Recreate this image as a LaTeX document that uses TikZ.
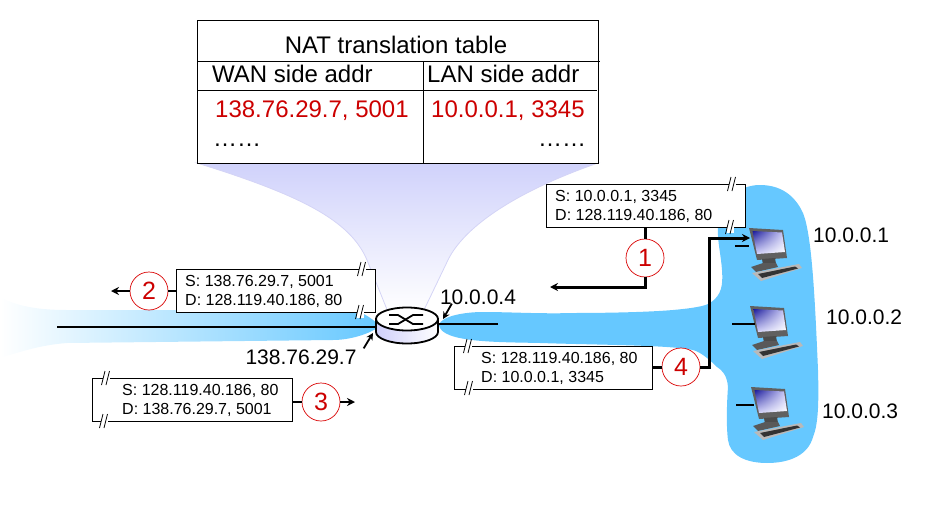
\documentclass[tikz,border=0pt]{standalone}
\usepackage{fontspec}
\setmainfont{Liberation Sans}
\usetikzlibrary{arrows.meta,positioning,calc,shadings}
\definecolor{lanblue}{HTML}{66C8FF}
\definecolor{conetop}{HTML}{D0D2FB}
\definecolor{coneline}{HTML}{D4D4F6}
\definecolor{natred}{HTML}{CC0000}
\definecolor{routerlav}{HTML}{CFCFFA}
\definecolor{screennavy}{HTML}{1A1A9A}

\begin{document}
\begin{tikzpicture}[
    x=1pt, y=-1pt,
    >={Stealth[length=8pt,width=8pt]},
    tablebox/.style={draw, line width=1.2pt, minimum width=401pt, minimum height=143pt, inner sep=0pt, anchor=north west},
    tablehead/.style={anchor=west, inner sep=0pt, font=\fontsize{24}{28}\selectfont},
    tablerow/.style={tablehead, text=natred},
    pktbox/.style={draw, fill=white, line width=1pt, minimum width=199pt, minimum height=43pt, inner sep=0pt, anchor=north west},
    pkttext/.style={inner sep=0pt, align=left, font=\fontsize{16}{19}\selectfont},
    hopmark/.style={circle, draw=red!85!black, fill=white, line width=0.7pt, minimum size=38pt, inner sep=0pt, text=natred, font=\fontsize{25}{25}\selectfont},
    addr/.style={inner sep=0pt, font=\fontsize{21}{25}\selectfont},
    hostbox/.style={minimum width=38pt, minimum height=30pt, inner sep=0pt, anchor=north west},
    link/.style={line width=2pt},
    hoplink/.style={line width=3pt},
    pointer/.style={line width=1.8pt, -{Stealth[length=7pt,width=7pt]}},
    breakmark/.pic={
        \fill[white] (-2.5,-6) rectangle (5,6);
        \draw[line width=0.8pt] (-3.5,7) -- (0,-7);
        \draw[line width=0.8pt] (1,7) -- (4.5,-7);
    },
    computer/.pic={
        % monitor
        \fill[gray!75!black] (0,0) -- (34,2) -- (38,30) -- (8,32) -- cycle;
        \shade[upper left=screennavy, upper right=routerlav, lower left=routerlav, lower right=white] (3.5,3) -- (33,4.5) -- (36,24) -- (8,26) -- cycle;
        \fill[black!70] (13,31) -- (26,30) -- (27,36) -- (14,37) -- cycle;
        \fill[black!65] (2,39) -- (14,35) -- (27,35) -- (29,39) -- (7,44) -- cycle;
        % keyboard
        \fill[gray!55] (3,45) -- (50,36) -- (53,40) -- (12,53) -- cycle;
        \fill[black!80] (9,46) -- (46,38.5) -- (49,40.5) -- (13,50) -- cycle;
    },
]
    \useasboundingbox (0,0) rectangle (932,522);

    % =====================================================================
    % SHADED REGIONS
    % =====================================================================
    \shade[top color=conetop, bottom color=white, draw=coneline, line width=0.8pt]
        (197,163) .. controls (300,195) and (350,220) .. (367,260) -- (388,312)
        -- (423,312) -- (448,260) .. controls (465,225) and (520,190) .. (598,163) -- cycle;

    \shade[left color=white, middle color=lanblue!35, right color=lanblue]
        (0,297) .. controls (20,308) and (45,310) .. (67,310) -- (353,310)
        .. controls (362,312) and (372,318) .. (380,326)
        .. controls (370,334) and (350,340) .. (333,340)
        -- (67,343) .. controls (40,345) and (20,352) .. (0,358) -- cycle;

    % LAN side
    \fill[lanblue] (439,325) .. controls (441,316) and (465,312) .. (483,312)
        .. controls (510,312) and (540,314) .. (573,313)
        .. controls (610,313) and (650,312) .. (673,310)
        .. controls (695,308) and (705,306) .. (710,303)
        .. controls (722,295) and (723,285) .. (722,270)
        .. controls (721,255) and (717,240) .. (718,227)
        .. controls (719,205) and (735,185) .. (760,185)
        .. controls (785,185) and (797,200) .. (803,213)
        .. controls (812,235) and (815,300) .. (818,370)
        .. controls (819,405) and (818,425) .. (813,437)
        .. controls (808,455) and (790,463) .. (767,463)
        .. controls (745,463) and (730,455) .. (728,440)
        .. controls (726,425) and (727,400) .. (728,387)
        .. controls (727,375) and (722,370) .. (717,367)
        .. controls (708,358) and (700,352) .. (693,350)
        .. controls (670,345) and (600,345) .. (540,343)
        .. controls (500,342) and (441,343) .. (439,325) -- cycle;

    % =====================================================================
    % TABLE
    % =====================================================================
    \node[tablebox, fill=white] (tbl) at (197,20) {};
    \draw[line width=1pt] (197,61) -- (600,61);
    \draw[line width=1pt] (197,90) -- (597,90);
    \draw[line width=1pt] (423,61) -- (423,163);
    \node[inner sep=0pt, font=\fontsize{24}{28}\selectfont] (title) at (396,45) {NAT translation table};
    \node[tablehead] (wanhead) at (212,74) {WAN side addr};
    \node[tablehead] (lanhead) at (427,74) {LAN side addr};
    \node[tablerow] (wanrow) at (215,111) {138.76.29.7, 5001};
    \node[tablerow] (lanrow) at (431,111) {10.0.0.1, 3345};
    \node[tablehead] (wandots) at (213,145) {……};
    \node[tablehead] (landots) at (538,145) {……};

    % =====================================================================
    % ROUTER AND LINKS
    % =====================================================================
    \node[inner sep=0pt, minimum width=62pt, minimum height=36pt] (router) at (407,326) {};
    \coordinate (wanend) at (57,327);
    \coordinate (lanend) at (498,324);
    \draw[link] (wanend) -- (wanend -| router.west);
    \draw[link] (lanend) -- (lanend -| router.east);

    \draw[line width=1.8pt, left color=routerlav, right color=white]
        (376,319) -- (376,332) arc[start angle=180, end angle=360, x radius=31, y radius=-11.5] -- (438,319) -- cycle;
    \draw[line width=1.8pt, fill=white] (407,319) ellipse[x radius=31, y radius=11.5];
    \draw[line width=1.8pt] (389,315) -- (398,315) -- (413,324) -- (423,324);
    \draw[line width=1.8pt] (389,324) -- (398,324) -- (413,315) -- (423,315);

    \node[addr] (wanaddr) at (301,357) {138.76.29.7};
    \node[addr] (lanaddr) at (478,297) {10.0.0.4};
    \draw[pointer] (wanaddr.north east) ++(7,-1) -- (373,333);
    \draw[pointer] (lanaddr.south west) ++(12,-1) -- (443,319);

    % =====================================================================
    % HOSTS
    % =====================================================================
    \node[hostbox] (h1) at (749,228) {};
    \node[hostbox] (h2) at (750,306) {};
    \node[hostbox] (h3) at (751,387) {};
    \pic at (h1.north west) {computer};
    \pic at (h2.north west) {computer};
    \pic at (h3.north west) {computer};
    \coordinate (stub1) at (735,246);
    \coordinate (stub2) at (732,324);
    \coordinate (stub3) at (736,405);
    \draw[link] (stub1) -- (stub1 -| h1.west);
    \draw[link] (stub2) -- ($(stub2 -| h2.west)+(5,0)$);
    \draw[link] (stub3) -- ($(stub3 -| h3.west)+(3,0)$);
    \node[addr, anchor=west] (addr1) at (813,235) {10.0.0.1};
    \node[addr, anchor=west] (addr2) at (826,317) {10.0.0.2};
    \node[addr, anchor=west] (addr3) at (822,411) {10.0.0.3};

    % =====================================================================
    % PACKETS
    % =====================================================================
    \node[pktbox] (box1) at (546,184) {};
    \node[pktbox] (box2) at (176,269) {};
    \node[pktbox, minimum width=200pt] (box3) at (92,378) {};
    \node[pktbox, minimum width=198pt] (box4) at (454,346) {};
    \node[pkttext, right=9pt of box1.west] (txt1) {S: 10.0.0.1, 3345\\D: 128.119.40.186, 80};
    \node[pkttext, right=9pt of box2.west] (txt2) {S: 138.76.29.7, 5001\\D: 128.119.40.186, 80};
    \node[pkttext, right=30pt of box3.west] (txt3) {S: 128.119.40.186, 80\\D: 138.76.29.7, 5001};
    \node[pkttext, right=27pt of box4.west] (txt4) {S: 128.119.40.186, 80\\D: 10.0.0.1, 3345};

    \pic at (731,184) {breakmark};
    \pic at (729,227) {breakmark};
    \pic at (361,269) {breakmark};
    \pic at (359,312) {breakmark};
    \pic at (105,378) {breakmark};
    \pic at (103,421) {breakmark};
    \pic at (467,346) {breakmark};
    \pic at (468,388) {breakmark};

    \node[hopmark] (hop1) at (645,258) {1};
    \node[hopmark] (hop2) at (149,291) {2};
    \node[hopmark] (hop3) at (321,402) {3};
    \node[hopmark] (hop4) at (681,367) {4};

    \coordinate (tip1) at (550,287);
    \coordinate (tip2) at (111,291);
    \coordinate (tip3) at (355,402);
    \coordinate (bend4) at (709,238);
    \coordinate (tip4) at (750,238);

    \draw[hoplink] (box1.south -| hop1) -- (hop1.north);
    \draw[hoplink, ->] (hop1.south) |- (tip1);
    \draw[link] (box2.west |- hop2) -- (hop2.east);
    \draw[link, ->] (hop2.west) -- (tip2);
    \draw[link] (box3.east |- hop3) -- (hop3.west);
    \draw[link, ->] (hop3.east) -- (tip3);
    \draw[hoplink] (box4.east |- hop4) -- (hop4.west);
    \draw[hoplink, ->] (hop4.east) -| (bend4) -- (tip4);

\end{tikzpicture}
\end{document}
